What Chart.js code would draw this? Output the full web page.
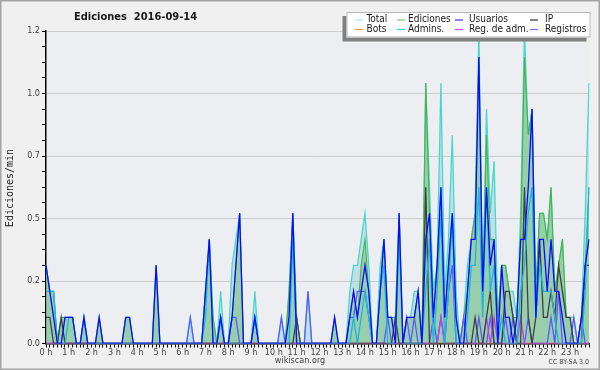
<!DOCTYPE html>
<html>
<head>
<meta charset="utf-8">
<script src="https://cdn.jsdelivr.net/npm/chart.js@4.4.1/dist/chart.umd.min.js"></script>
<style>
html,body{margin:0;padding:0;background:#f0f0f0;}
canvas{display:block;}
</style>
</head>
<body>
<canvas id="c" width="600" height="370"></canvas>
<script>
// ---- data (10-minute bins, edits per minute) ----
const hourLabels = ['0 h','1 h','2 h','3 h','4 h','5 h','6 h','7 h','8 h','9 h','10 h','11 h',
  '12 h','13 h','14 h','15 h','16 h','17 h','18 h','19 h','20 h','21 h','22 h','23 h'];
const minuteSteps = ['00','10','20','30','40','50'];
const yTickLabels = ['0.0','0.2','0.5','0.7','1.0','1.2'];
const seriesNames = ['Total','Ediciones','Usuarios','IP','Bots','Admins.','Reg. de adm.','Registros'];

const total = [
 .3,.2,.2,0,.1,.1,.1,.1,0,0,.1,0,
 0,0,.1,0,0,0,0,0,0,.1,.1,0,
 0,0,0,0,0,.3,0,0,0,0,0,0,
 0,0,.1,0,0,0,.2,.4,.1,0,.2,0,
 0,.3,.4,.5,0,0,0,.2,0,0,0,0,
 0,0,.1,0,.2,.5,.1,0,0,.2,0,0,
 0,0,0,0,.1,0,0,0,.2,.3,.3,.4,
 .5,.3,0,0,.3,.4,.1,.1,.1,.5,0,.1,
 .1,.2,.2,0,1.0,.6,.2,.3,1.0,.2,.4,.8,
 .2,0,.1,.3,.4,.5,1.2,.2,.9,.5,.7,.1,
 .3,.3,.2,.2,.1,.5,1.2,.8,.9,.2,.5,.5,
 .4,.6,.2,.3,.4,.1,.1,.1,0,.1,.5,1.0];
const ediciones = [
 .3,.2,.2,0,.1,.1,.1,.1,0,0,.1,0,
 0,0,.1,0,0,0,0,0,0,.1,.1,0,
 0,0,0,0,0,.3,0,0,0,0,0,0,
 0,0,0,0,0,0,.2,.4,.1,0,.1,0,
 0,.1,.3,.5,0,0,0,.1,0,0,0,0,
 0,0,0,0,.2,.5,.1,0,0,0,0,0,
 0,0,0,0,.1,0,0,0,.1,.2,.1,.3,
 .4,.2,0,0,.2,.4,.1,.1,.1,.5,0,.1,
 .1,.1,.2,0,1.0,.5,.1,.3,.6,.1,.3,.5,
 .1,0,.1,.2,.4,.5,1.1,.2,.8,.4,.4,.1,
 .3,.3,.2,.1,.1,.4,1.1,.8,.9,.2,.5,.5,
 .4,.6,.2,.3,.4,.1,.1,0,0,.1,.3,.6];
const usuarios = [
 .3,.2,.1,0,0,.1,.1,.1,0,0,.1,0,
 0,0,.1,0,0,0,0,0,0,.1,.1,0,
 0,0,0,0,0,.3,0,0,0,0,0,0,
 0,0,0,0,0,0,.2,.4,0,0,.1,0,
 0,.1,.3,.5,0,0,0,.1,0,0,0,0,
 0,0,0,0,.1,.5,0,0,0,0,0,0,
 0,0,0,0,.1,0,0,0,.1,.2,.1,.2,
 .3,.2,0,0,.2,.4,.1,.1,0,.5,0,.1,
 .1,.1,.2,0,.4,.5,.1,.3,.6,.1,.3,.5,
 .1,0,0,.2,.4,.4,1.1,.2,.6,.3,.4,0,
 .3,.1,.1,0,.1,.4,.4,.6,.9,.1,.4,.4,
 .2,.4,.2,.2,.1,0,0,0,0,.1,.3,.4];
const ip = [
 .1,.1,0,0,.1,0,0,0,0,0,0,0,
 0,0,0,0,0,0,0,0,0,0,0,0,
 0,0,0,0,0,0,0,0,0,0,0,0,
 0,0,0,0,0,0,0,0,0,0,0,0,
 0,0,0,0,0,0,0,0,0,0,0,0,
 0,0,0,0,0,0,.1,0,0,0,0,0,
 0,0,0,0,0,0,0,0,0,0,0,0,
 0,0,0,0,0,0,0,0,.1,0,0,0,
 0,0,0,0,.6,0,0,0,0,0,0,0,
 0,0,0,0,0,.1,0,0,.1,.2,0,0,
 0,.2,.2,.1,0,0,.6,.1,0,.1,.4,.1,
 .1,.2,.1,.3,.2,.1,.1,0,0,0,.3,.3];
const bots = [
 0,0,0,0,0,0,0,0,0,0,0,0, 0,0,0,0,0,0,0,0,0,0,0,0,
 0,0,0,0,0,0,0,0,0,0,0,0, 0,0,0,0,0,0,0,0,0,0,0,0,
 0,0,0,0,0,0,0,0,0,0,0,0, 0,0,0,0,0,0,0,0,0,0,0,0,
 0,0,0,0,0,0,0,0,0,0,0,0, 0,0,0,0,0,0,0,0,0,0,0,0,
 0,0,0,0,0,0,0,0,0,0,0,0, 0,0,0,0,0,0,0,0,0,0,0,0,
 0,0,0,0,0,0,0,0,0,0,0,0, 0,0,0,0,0,0,0,0,0,0,0,0];
const admins = [
 .2,.2,.2,0,0,0,.1,.1,0,0,.1,0,
 0,0,0,0,0,0,0,0,0,0,0,0,
 0,0,0,0,0,0,0,0,0,0,0,0,
 0,0,0,0,0,0,.1,.4,0,0,.1,0,
 0,0,0,0,0,0,0,.1,0,0,0,0,
 0,0,0,0,0,.4,0,0,0,0,0,0,
 0,0,0,0,0,0,0,0,0,.1,0,.1,
 .2,.1,0,0,.2,.3,0,0,0,.4,0,0,
 0,0,0,0,.2,.4,0,.2,.5,0,.2,.5,
 0,0,0,.1,.3,.3,.6,.1,.6,.2,.3,0,
 .1,0,0,0,0,.2,.3,.5,.6,.1,.3,.2,
 .2,.2,.1,0,0,0,0,0,0,0,.2,.6];
const regAdm = [
 0,0,0,0,0,0,0,0,0,0,0,0, 0,0,0,0,0,0,0,0,0,0,0,0,
 0,0,0,0,0,0,0,0,0,0,0,0, 0,0,0,0,0,0,0,0,0,0,0,0,
 0,0,0,0,0,0,0,0,0,0,0,0, 0,0,0,0,0,0,0,0,0,0,0,0,
 0,0,0,0,0,0,0,0,0,0,0,0, 0,0,0,0,0,0,0,0,0,0,0,0,
 0,0,0,0,0,0,0,0,.1,0,0,0,
 0,0,0,0,0,0,0,0,.1,0,.1,0,
 0,0,0,0,0,.1,0,0,0,0,0,0,
 0,0,0,0,0,0,0,0,0,0,0,0];
const registros = [
 0,0,0,0,0,0,0,0,0,0,0,0,
 0,0,0,0,0,0,0,0,0,0,0,0,
 0,0,0,0,0,0,0,0,0,0,0,0,
 0,0,.1,0,0,0,0,0,0,0,.1,0,
 0,.1,.1,0,0,0,0,.1,0,0,0,0,
 0,0,.1,0,0,0,0,0,0,.2,0,0,
 0,0,0,0,0,0,0,0,.1,.1,.2,.2,
 .2,.1,0,0,0,0,.1,0,0,0,0,.1,
 0,.1,0,0,0,0,.1,0,.1,0,.2,.3,
 0,0,.1,0,0,0,.1,0,0,.1,0,0,
 0,.1,0,.1,0,0,0,.1,0,0,0,0,
 0,.1,0,.2,0,0,0,.1,0,.1,0,0];

// category labels: one per 10 minutes
const timeLabels = [];
hourLabels.forEach(h => minuteSteps.forEach(m => timeLabels.push(h + m)));

const FONT = '"DejaVu Sans Condensed", "DejaVu Sans", sans-serif';
const legendColors = ['#a8ecec','#6ccf6c','#3535ff','#333333','#ffa030','#30d0e8','#e040e8','#7070ff'];

const deco = {
  id: 'deco',
  beforeDraw(chart) {
    const c = chart.ctx, a = chart.chartArea;
    c.save();
    c.fillStyle = '#f0f0f0';
    c.fillRect(0, 0, chart.width, chart.height);
    c.strokeStyle = '#a4a4a4';
    c.lineWidth = 1.5;
    c.strokeRect(0.75, 0.75, chart.width - 1.5, chart.height - 1.5);
    c.fillStyle = '#eceef1';
    c.fillRect(a.left, a.top, a.right - a.left, a.bottom - a.top);
    c.restore();
  },
  afterDraw(chart) {
    const c = chart.ctx;
    c.save();
    // title
    c.fillStyle = '#1a1a1a';
    c.font = 'bold 11px ' + FONT;
    c.textBaseline = 'middle';
    c.textAlign = 'left';
    c.fillText('Ediciones  2016-09-14', 74, 17.5);
    // y title
    c.save();
    c.translate(10, 188);
    c.rotate(-Math.PI / 2);
    c.font = '10px "DejaVu Sans Mono", monospace';
    c.textAlign = 'center';
    c.fillStyle = '#222';
    c.fillText('Ediciones/min', 0, 0);
    c.restore();
    // footer
    c.font = '9px ' + FONT;
    c.fillStyle = '#444';
    c.textAlign = 'center';
    c.fillText('wikiscan.org', 300, 361);
    c.font = '7px ' + FONT;
    c.textAlign = 'right';
    c.fillText('CC BY-SA 3.0', 589, 362.5);
    // legend
    const bx = 346.5, by = 12, bw = 244, bh = 25.5;
    c.fillStyle = '#808080';
    c.fillRect(bx - 4, by + 4, bw, bh);
    c.fillStyle = '#ffffff';
    c.fillRect(bx, by, bw, bh);
    c.strokeStyle = '#b8b8b8';
    c.lineWidth = 1;
    c.strokeRect(bx + 0.5, by + 0.5, bw - 1, bh - 1);
    const lineX = [355, 397, 455, 530];
    const textX = [366.5, 408, 469, 545];
    const rowY = [19.5, 29];
    c.font = '10px ' + FONT;
    c.textAlign = 'left';
    c.textBaseline = 'middle';
    seriesNames.forEach((name, k) => {
      const col = k % 4, row = Math.floor(k / 4);
      c.strokeStyle = legendColors[k];
      c.lineWidth = 1.2;
      c.beginPath();
      c.moveTo(lineX[col], rowY[row] + 0.5);
      c.lineTo(lineX[col] + 8, rowY[row] + 0.5);
      c.stroke();
      c.fillStyle = '#1a1a1a';
      c.fillText(name, textX[col], rowY[row]);
    });
    c.restore();
  }
};

const mk = (label, data, color, order, extra) => Object.assign({
  label, data, borderColor: color, backgroundColor: color, borderWidth: 1.3,
  fill: false, pointRadius: 0, tension: 0, order
}, extra || {});

new Chart(document.getElementById('c'), {
  type: 'line',
  data: {
    labels: timeLabels,
    datasets: [
      mk(seriesNames[0], total, '#48d8cc', 9, {fill: 'origin', backgroundColor: 'rgba(150,205,225,0.5)'}),
      mk(seriesNames[1], ediciones, '#48b448', 8, {fill: 'origin', backgroundColor: 'rgba(115,192,115,0.52)', borderWidth: 1.1}),
      mk(seriesNames[4], bots, '#ffa030', 7),
      mk(seriesNames[7], registros, '#5a5aff', 6),
      mk(seriesNames[6], regAdm, '#c040e0', 5),
      mk(seriesNames[3], ip, '#404040', 4),
      mk(seriesNames[5], admins, '#18b8e0', 3),
      mk(seriesNames[2], usuarios, '#0a0aff', 2)
    ]
  },
  options: {
    responsive: false,
    animation: false,
    devicePixelRatio: 1,
    events: [],
    layout: {padding: {top: 31, right: 11, left: 0, bottom: 0}},
    plugins: {legend: {display: false}, title: {display: false}, tooltip: {enabled: false}},
    scales: {
      x: {
        type: 'category',
        offset: false,
        z: 1,
        border: {color: '#000', width: 1.5},
        grid: {display: true, drawOnChartArea: false, drawTicks: true, tickLength: 4, color: '#000', tickColor: '#000'},
        ticks: {
          autoSkip: false, maxRotation: 0, minRotation: 0, padding: 0,
          color: '#444', font: {family: FONT, size: 9},
          callback: (v, i) => (i % 6 === 0 ? hourLabels[i / 6] : '')
        },
        afterFit: s => { s.height = 26.5; }
      },
      y: {
        min: 0, max: 1.2,
        border: {color: '#000', width: 1.5},
        grid: {
          color: ctx => (ctx.index % 4 === 0 ? '#cdcdcd' : 'rgba(0,0,0,0)'),
          tickColor: '#000', tickLength: 4, drawTicks: true
        },
        ticks: {
          stepSize: 0.06, maxTicksLimit: 100, padding: 2, autoSkip: false,
          color: '#444', font: {family: FONT, size: 9},
          callback: (v, i) => (i % 4 === 0 ? yTickLabels[i / 4] : '')
        },
        afterFit: s => { s.width = 46; }
      }
    }
  },
  plugins: [deco]
});
</script>
</body>
</html>
